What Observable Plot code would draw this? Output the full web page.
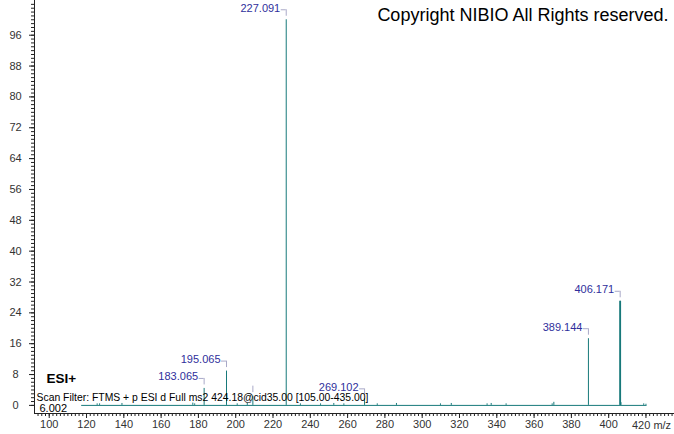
<!DOCTYPE html>
<html>
<head>
<meta charset="utf-8">
<script src="https://cdn.jsdelivr.net/npm/d3@7"></script>
<script src="https://cdn.jsdelivr.net/npm/@observablehq/plot@0.6"></script>
<style>
  html, body { margin: 0; padding: 0; background: #fff; }
  #chart svg { display: block; }
</style>
</head>
<body>
<div id="chart"></div>
<script>
// m/z of each stick and its relative abundance (%)
const mzValues = [125.7, 127.0, 139.0, 177.0, 178.0, 183.065, 195.065, 200.8, 206.2, 209.2,
  227.091, 234.7, 245.5, 252.6, 258.0, 269.102, 275.9, 286.2, 309.8, 315.6,
  334.8, 337.0, 345.0, 369.7, 370.6, 389.144, 406.171, 406.6, 418.8, 420.0];
const intensities = [0.4, 0.4, 0.5, 0.6, 0.4, 4.4, 8.9, 0.4, 0.5, 2.4,
  100, 0.4, 0.4, 0.5, 0.4, 1.7, 0.4, 0.5, 0.4, 0.5,
  0.4, 0.5, 0.4, 0.4, 0.8, 17.3, 27.0, 0.7, 0.4, 0.3];

// annotated peaks
const labelMz = [183.065, 195.065, 209.2, 227.091, 269.102, 389.144, 406.171];
const labelInt = [4.4, 8.9, 2.4, 100, 1.7, 17.3, 27.0];
const labelText = ["183.065", "195.065", "", "227.091", "269.102", "389.144", "406.171"];

// scan baseline range
const baselineFrom = [117.4];
const baselineTo = [420.6];

const xMajor = d3.range(100, 401, 20);
const xLast = [420];
const xMinor = d3.range(94, 435, 2);
const yMajor = d3.range(0, 97, 8);
const yMinor = d3.range(0, 105, 1);

const titleText = "Copyright NIBIO All Rights reserved.";
const modeText = "ESI+";
const filterText = "Scan Filter: FTMS + p ESI d Full ms2 424.18@cid35.00 [105.00-435.00]";
const rtText = "6.002";
const unitText = "m/z";

const peaks = mzValues.map((mz, i) => ({mz, int: intensities[i]}));
const labels = labelMz.map((mz, i) => ({mz, int: labelInt[i], text: labelText[i]}));
const baseline = baselineFrom.map((a, i) => ({from: a, to: baselineTo[i]}));

const teal = "#17797a";
const labelBlue = "#2f2f9c";
const bracket = "#a9a9c8";
const font = "'Liberation Sans', Arial, sans-serif";

const chart = Plot.plot({
  width: 674,
  height: 434,
  marginLeft: 34,
  marginRight: 0,
  marginTop: 0,
  marginBottom: 21,
  style: {fontFamily: font, fontSize: "11px", background: "#fff", color: "#333"},
  x: {domain: [92.1, 435.3], label: null},
  y: {domain: [-2.1, 105], label: null},
  marks: [
    // baseline of the scan
    Plot.ruleY(baseline, {y: 0, x1: "from", x2: "to", stroke: teal, strokeWidth: 1}),
    // sticks
    Plot.ruleX(peaks, {x: "mz", y1: 0, y2: "int", stroke: teal, strokeWidth: 1}),
    Plot.ruleX(peaks.filter(d => d.mz === 406.171), {x: "mz", y1: 0, y2: "int", stroke: teal, strokeWidth: 1.8}),
    // label brackets
    Plot.ruleY(labels.filter(d => d.text), {y: "int", x1: "mz", x2: "mz", dy: -10, insetLeft: -5, insetRight: 0, stroke: bracket}),
    Plot.ruleX(labels, {x: "mz", y1: "int", y2: "int", insetTop: -10, insetBottom: 3.5, stroke: bracket}),
    Plot.text(labels, {x: "mz", y: "int", text: "text", textAnchor: "end", dx: -6, dy: -11.5, fill: labelBlue, fontSize: 11}),
    // axes
    Plot.frame({anchor: "left", stroke: "#222"}),
    Plot.frame({anchor: "bottom", stroke: "#222"}),
    Plot.axisX({ticks: xMinor, tickSize: 3, text: null, stroke: "#222", label: null}),
    Plot.axisX({ticks: xMajor.concat(xLast), tickSize: 5, text: null, stroke: "#222", label: null}),
    Plot.axisX({ticks: xMajor, tickSize: 0, tickPadding: 7, fill: "#333", label: null}),
    Plot.text(xLast, {x: d => d, text: d => d + " " + unitText, frameAnchor: "bottom", dx: -14, dy: 12, textAnchor: "start", lineAnchor: "middle", fill: "#333"}),
    Plot.axisY({ticks: yMinor, tickSize: 3, text: null, stroke: "#222", label: null}),
    Plot.axisY({ticks: yMajor, tickSize: 5, text: null, stroke: "#222", label: null}),
    Plot.text(yMajor, {y: d => d, text: d => String(d), frameAnchor: "left", dx: -19, textAnchor: "middle", fill: "#333"}),
    // annotations
    Plot.text([titleText], {text: d => d, frameAnchor: "top-right", dx: -6, dy: 15, textAnchor: "end", lineAnchor: "middle", fontSize: 18, fill: "#000"}),
    Plot.text([modeText], {text: d => d, frameAnchor: "bottom-left", dx: 12, dy: -35, textAnchor: "start", lineAnchor: "middle", fontSize: 13.5, fontWeight: "bold", fill: "#000"}),
    Plot.text([filterText], {text: d => d, frameAnchor: "bottom-left", dx: 2, dy: -16, textAnchor: "start", lineAnchor: "middle", fontSize: 10.4, fill: "#000"}),
    Plot.text([rtText], {text: d => d, frameAnchor: "bottom-left", dx: 5, dy: -5, textAnchor: "start", lineAnchor: "middle", fontSize: 11, fill: "#000"})
  ]
});
document.getElementById("chart").append(chart);
</script>
</body>
</html>
